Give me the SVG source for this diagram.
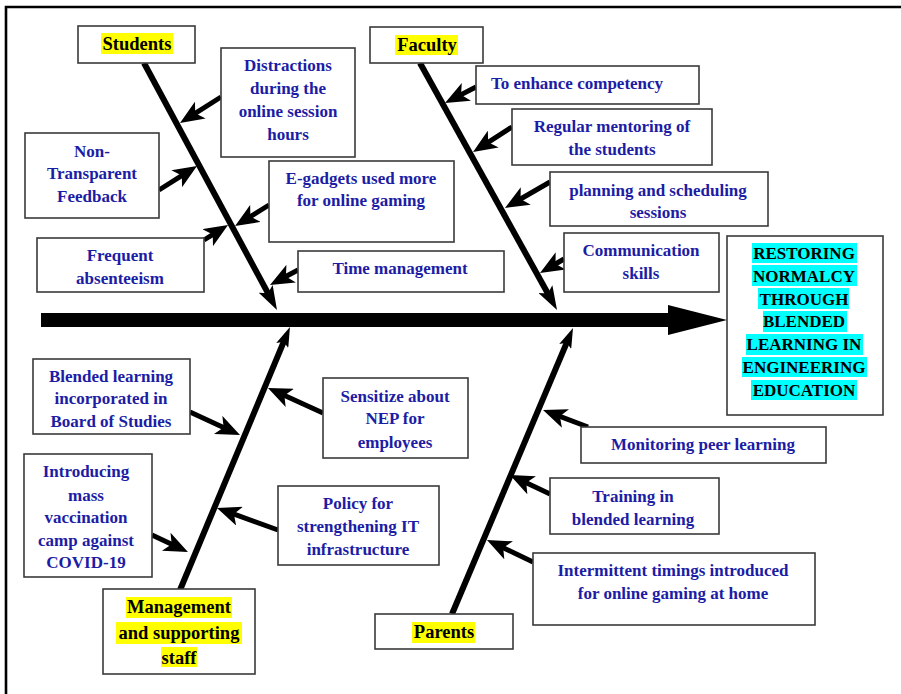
<svg xmlns="http://www.w3.org/2000/svg" width="901" height="694" viewBox="0 0 901 694">
<style>
.box{fill:#fff;stroke:#3a3a3a;stroke-width:1.6}
.t{font-family:"Liberation Serif","Times New Roman",serif;font-weight:bold;font-size:17px;fill:#1c1ca4;text-anchor:middle}
.h{font-family:"Liberation Serif","Times New Roman",serif;font-weight:bold;font-size:18.5px;fill:#000;text-anchor:middle}
.hd{font-family:"Liberation Serif","Times New Roman",serif;font-weight:bold;font-size:17px;fill:#000;text-anchor:middle}
.yl{fill:#ffff00}
.cy{fill:#00ffff}
.br{stroke:#000;stroke-width:5;fill:none;marker-end:url(#ah)}
.bn{stroke:#000;stroke-width:6;fill:none}
</style>
<defs>
<marker id="ah" markerUnits="userSpaceOnUse" viewBox="0 0 24 20" markerWidth="24" markerHeight="20" refX="13" refY="10" orient="auto"><path d="M0,0 L24,10 L0,20 L6,10 Z" fill="#000"/></marker>
<marker id="bh" markerUnits="userSpaceOnUse" viewBox="0 0 24 16" markerWidth="24" markerHeight="16" refX="12" refY="8" orient="auto"><path d="M0,0 L24,8 L0,16 L5,8 Z" fill="#000"/></marker>
<marker id="sh" markerUnits="userSpaceOnUse" viewBox="0 0 20 13" markerWidth="20" markerHeight="13" refX="10" refY="6.5" orient="auto"><path d="M0,0 L20,6.5 L0,13 L4,6.5 Z" fill="#000"/></marker>
</defs>
<rect width="901" height="694" fill="#fff"/>
<path d="M6,694 V7 H901" fill="none" stroke="#000" stroke-width="2.6"/>

<g id="connectors">
<rect x="41" y="313" width="628" height="14" fill="#000"/>
<polygon points="668,305 727,320 668,335" fill="#000"/>
<line class="bn" x1="144" y1="63" x2="271.3" y2="299.4" marker-end="url(#bh)"/>
<line class="bn" x1="420" y1="63" x2="551.2" y2="299.5" marker-end="url(#bh)"/>
<line class="bn" x1="180" y1="590" x2="286.1" y2="336.2" marker-end="url(#sh)"/>
<line class="bn" x1="452" y1="614" x2="569.1" y2="337.2" marker-end="url(#sh)"/>
<line class="br" x1="221" y1="97" x2="189.3" y2="117.1"/>
<line class="br" x1="159" y1="190" x2="187.7" y2="171.8"/>
<line class="br" x1="269" y1="205" x2="244.4" y2="220.3"/>
<line class="br" x1="204" y1="240" x2="218.7" y2="230.8"/>
<line class="br" x1="298" y1="270" x2="279.7" y2="279.8"/>
<line class="br" x1="476" y1="87" x2="454.8" y2="97.9"/>
<line class="br" x1="512" y1="127" x2="482.3" y2="146.1"/>
<line class="br" x1="550" y1="182" x2="514.5" y2="202.5"/>
<line class="br" x1="564" y1="259" x2="549.5" y2="267.5"/>
<line class="br" x1="190" y1="412" x2="230" y2="430.4"/>
<line class="br" x1="152" y1="535" x2="178" y2="547.3"/>
<line class="br" x1="323" y1="413" x2="278" y2="392.5"/>
<line class="br" x1="278" y1="530" x2="227.3" y2="511.7"/>
<line class="br" x1="588" y1="427" x2="553.3" y2="413.9"/>
<line class="br" x1="550" y1="494" x2="519.9" y2="479.7"/>
<line class="br" x1="533" y1="562" x2="496.9" y2="544.7"/>
</g>

<g id="students">
<rect class="box" x="78" y="26" width="117" height="37"/>
<rect class="yl" x="101" y="33" width="72" height="21"/>
<text class="h" x="137" y="50">Students</text>
</g>
<g id="faculty">
<rect class="box" x="370" y="27" width="113" height="36"/>
<rect class="yl" x="395" y="35" width="63" height="20"/>
<text class="h" x="427" y="51">Faculty</text>
</g>
<g id="management">
<rect class="box" x="103" y="589" width="152" height="85"/>
<rect class="yl" x="126" y="597" width="106" height="21"/>
<rect class="yl" x="116" y="622" width="126" height="22"/>
<rect class="yl" x="161" y="647" width="36" height="20"/>
<text class="h" x="179" y="613">Management</text>
<text class="h" x="179" y="639">and supporting</text>
<text class="h" x="179" y="664">staff</text>
</g>
<g id="parents">
<rect class="box" x="375" y="614" width="138" height="35"/>
<rect class="yl" x="412" y="622" width="63" height="21"/>
<text class="h" x="444" y="638">Parents</text>
</g>

<g id="head">
<rect class="box" x="727" y="236" width="156" height="179"/>
<rect class="cy" x="752" y="243" width="105" height="20"/>
<rect class="cy" x="752" y="265" width="105" height="21"/>
<rect class="cy" x="758" y="288" width="91" height="21"/>
<rect class="cy" x="763" y="311" width="84" height="21"/>
<rect class="cy" x="746" y="334" width="117" height="21"/>
<rect class="cy" x="742" y="357" width="125" height="20"/>
<rect class="cy" x="751" y="380" width="106" height="20"/>
<text class="hd" x="804" y="259">RESTORING</text>
<text class="hd" x="804" y="282">NORMALCY</text>
<text class="hd" x="804" y="305">THROUGH</text>
<text class="hd" x="804" y="327">BLENDED</text>
<text class="hd" x="804" y="350">LEARNING IN</text>
<text class="hd" x="804" y="373">ENGINEERING</text>
<text class="hd" x="804" y="396">EDUCATION</text>
</g>

<g id="distractions">
<rect class="box" x="221" y="48" width="134" height="109"/>
<text class="t" x="288" y="71">Distractions</text>
<text class="t" x="288" y="94">during the</text>
<text class="t" x="288" y="117">online session</text>
<text class="t" x="288" y="140">hours</text>
</g>
<g id="nontransparent">
<rect class="box" x="25" y="133" width="134" height="85"/>
<text class="t" x="92" y="157">Non-</text>
<text class="t" x="92" y="179">Transparent</text>
<text class="t" x="92" y="202">Feedback</text>
</g>
<g id="egadgets">
<rect class="box" x="269" y="161" width="185" height="81"/>
<text class="t" x="361" y="184">E-gadgets used more</text>
<text class="t" x="361" y="206">for online gaming</text>
</g>
<g id="absenteeism">
<rect class="box" x="37" y="238" width="167" height="54"/>
<text class="t" x="120" y="261">Frequent</text>
<text class="t" x="120" y="284">absenteeism</text>
</g>
<g id="timemanagement">
<rect class="box" x="298" y="251" width="206" height="41"/>
<text class="t" x="400" y="274">Time management</text>
</g>
<g id="competency">
<rect class="box" x="476" y="66" width="223" height="38"/>
<text class="t" x="577" y="89">To enhance competency</text>
</g>
<g id="mentoring">
<rect class="box" x="512" y="109" width="200" height="56"/>
<text class="t" x="612" y="132">Regular mentoring of</text>
<text class="t" x="612" y="155">the students</text>
</g>
<g id="planning">
<rect class="box" x="550" y="172" width="218" height="54"/>
<text class="t" x="658" y="196">planning and scheduling</text>
<text class="t" x="658" y="218">sessions</text>
</g>
<g id="communication">
<rect class="box" x="564" y="233" width="155" height="59"/>
<text class="t" x="641" y="256">Communication</text>
<text class="t" x="641" y="279">skills</text>
</g>
<g id="blended">
<rect class="box" x="33" y="359" width="157" height="75"/>
<text class="t" x="111" y="382">Blended learning</text>
<text class="t" x="111" y="404">incorporated in</text>
<text class="t" x="111" y="427">Board of Studies</text>
</g>
<g id="vaccination">
<rect class="box" x="24" y="454" width="128" height="123"/>
<text class="t" x="86" y="477">Introducing</text>
<text class="t" x="86" y="501">mass</text>
<text class="t" x="86" y="523">vaccination</text>
<text class="t" x="86" y="546">camp against</text>
<text class="t" x="86" y="568">COVID-19</text>
</g>
<g id="sensitize">
<rect class="box" x="323" y="378" width="145" height="80"/>
<text class="t" x="395" y="402">Sensitize about</text>
<text class="t" x="395" y="424">NEP for</text>
<text class="t" x="395" y="448">employees</text>
</g>
<g id="policy">
<rect class="box" x="278" y="486" width="161" height="79"/>
<text class="t" x="358" y="509">Policy for</text>
<text class="t" x="358" y="532">strengthening IT</text>
<text class="t" x="358" y="555">infrastructure</text>
</g>
<g id="monitoring">
<rect class="box" x="581" y="427" width="245" height="36"/>
<text class="t" x="703" y="450">Monitoring peer learning</text>
</g>
<g id="training">
<rect class="box" x="550" y="478" width="169" height="56"/>
<text class="t" x="633" y="502">Training in</text>
<text class="t" x="633" y="525">blended learning</text>
</g>
<g id="intermittent">
<rect class="box" x="533" y="553" width="282" height="72"/>
<text class="t" x="673" y="576">Intermittent timings introduced</text>
<text class="t" x="673" y="599">for online gaming at home</text>
</g>
</svg>
